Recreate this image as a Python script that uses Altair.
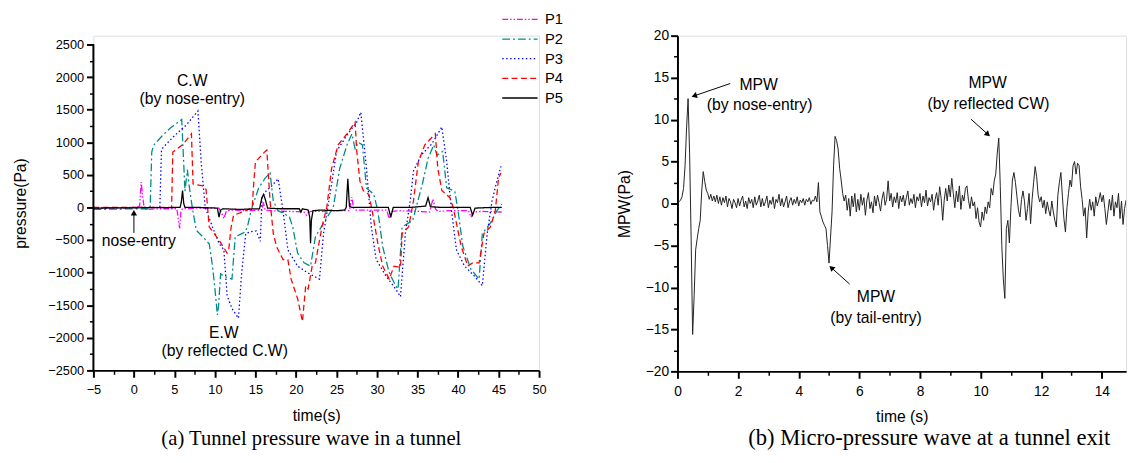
import altair as alt
import pandas as pd

# ---------------- (a) tunnel pressure wave ----------------
SERIES = ["P1", "P2", "P3", "P4", "P5"]
COLORS = ["#ff00ff", "#008b8b", "#0000ff", "#ff0000", "#000000"]
DASHES = [[6, 2, 1.5, 2, 1.5, 2], [8, 3, 2, 3], [1.5, 2.5], [6, 3.5], [1, 0]]

P1 = [(-5, -10), (-2, -10), (0, -5), (0.7, 20), (0.9, 390), (1.1, 150), (1.3, -40), (1.5, -30),
      (3, -20), (5.3, -20), (5.5, -200), (5.65, -320), (5.8, -60), (6.0, -20), (8, -10), (10.5, -10),
      (10.8, -80), (11.1, -170), (11.4, -60), (12, -40), (14, -50), (15.8, -40), (16.0, 80), (16.2, -40),
      (17, -50), (19, -60), (21, -70), (21.3, -120), (21.5, -80), (21.8, -60), (23, -60), (25, -50),
      (26.6, -50), (26.9, 160), (27.1, -10), (27.4, -40), (29, -40), (31.2, -40), (31.5, -170), (31.8, -60),
      (33, -50), (35, -60), (36.5, -70), (36.9, 130), (37.2, -20), (37.5, -60), (39, -50), (41.3, -50),
      (41.6, -150), (41.9, -70), (43, -60), (45.4, -70)]

P2 = [(-5, -30), (-2, -25), (0, -20), (2.0, -20), (2.2, 850), (2.4, 950), (3.5, 1100), (4.5, 1220),
      (5.9, 1350), (6.1, 800), (6.3, 250), (6.6, 580), (6.8, 350), (7.2, 0), (7.7, -350), (8.5, -450),
      (9.3, -560), (9.7, -900), (10.0, -1250), (10.3, -1650), (10.45, -1500), (10.7, -1020), (11.2, -1060),
      (12.1, -1100), (12.5, -450), (13.0, -420), (13.7, -380), (14.0, -300), (14.5, -30), (15.4, 300),
      (16.2, 450), (16.8, 530), (17.2, 100), (17.8, -50), (18.6, -100), (19.2, -150), (19.6, -300),
      (20.2, -700), (21.0, -850), (21.8, -900), (22.4, -450), (23.4, -240), (24.6, 0), (25.4, 600),
      (26.3, 960), (26.9, 1130), (27.3, 900), (27.7, 1000), (28.2, 960), (28.7, 300), (29.6, 200),
      (30.1, -50), (30.7, -600), (31.5, -1000), (32.3, -1200), (32.6, -1250), (33.1, -300), (34.4, -200),
      (35.6, 360), (36.3, 750), (37.0, 960), (37.4, 800), (38.1, 860), (38.6, 300), (39.6, 250),
      (40.0, -50), (40.6, -600), (41.6, -950), (42.6, -1100), (43.0, -400), (44.0, -240), (44.8, -50),
      (45.4, 50)]

P3 = [(-5, -10), (0, 0), (3.2, 0), (3.4, 880), (3.6, 920), (5, 1100), (6.5, 1270), (7.9, 1480),
      (8.3, 700), (8.8, 0), (9.7, -300), (10.5, -550), (11.1, -650), (11.5, -1350), (12.1, -1550),
      (12.9, -1700), (13.3, -1000), (13.8, -400), (14.5, -370), (15.1, -360), (15.6, -520), (15.8, 150),
      (16.3, 250), (17.0, 330), (17.8, 440), (18.4, -50), (19.0, -650), (20.2, -900), (21.4, -1000),
      (22.9, -1100), (23.4, -400), (24.4, 360), (25.0, 860), (26.3, 1110), (27.5, 1310), (28.0, 1460),
      (28.7, 600), (29.3, -300), (29.9, -800), (31.1, -1050), (32.3, -1250), (32.9, -1370), (33.5, -400),
      (34.1, 100), (34.5, 560), (35.5, 810), (36.8, 980), (38.0, 1235), (38.6, 700), (39.2, -50),
      (39.8, -650), (40.8, -900), (42.0, -1050), (43.0, -1200), (43.6, -400), (44.2, 100), (44.7, 360),
      (45.3, 630)]

P4 = [(-5, 0), (0, 0), (4.5, 0), (4.65, 0), (4.8, 850), (6.0, 960), (7.1, 1130), (7.3, 360),
      (7.6, 350), (8.5, 330), (8.9, 280), (9.3, -300), (10.5, -500), (11.5, -700), (11.7, -650),
      (12.0, -300), (12.3, -120), (13.8, -50), (14.6, 0), (14.8, 400), (15.0, 700), (16.2, 860),
      (16.4, 880), (16.8, 100), (17.2, -400), (17.6, -600), (18.4, -800), (19.0, -800), (19.4, -1100),
      (20.2, -1400), (20.8, -1750), (21.2, -1200), (21.5, -1250), (22.0, -900), (22.4, -850), (23.2, -300),
      (23.8, 0), (24.4, 600), (25.2, 960), (26.3, 1130), (27.3, 1310), (27.5, 860), (27.9, 400),
      (28.3, 260), (29.0, 200), (29.4, -50), (30.1, -550), (30.7, -900), (31.5, -1100), (32.1, -900),
      (32.9, -920), (33.1, -400), (33.9, -300), (34.5, 100), (35.1, 700), (35.9, 960), (37.2, 1130),
      (37.5, 600), (38.0, 260), (39.0, 150), (39.4, 0), (40.4, -600), (41.2, -900), (41.8, -850),
      (42.6, -850), (43.2, -400), (44.0, -300), (44.6, -50), (45.0, 450), (45.3, 530)]

P5 = [(-5, -10), (0, -5), (5.7, 0), (5.85, 80), (6.0, 260), (6.15, 60), (6.3, 0), (8, 0),
      (10.3, -10), (10.5, -150), (10.7, -40), (11, -20), (13, -30), (15.5, -20), (15.8, 150), (16.0, 200),
      (16.2, 130), (16.5, -10), (18, -20), (20.4, -20), (20.6, -70), (20.8, -20), (21.5, -40), (21.7, -150),
      (21.8, -550), (21.9, -200), (22.1, -50), (23, -40), (25, -50), (26.0, -40), (26.2, 0), (26.4, 440),
      (26.6, 20), (26.9, 0), (28, 0), (31.4, 0), (31.7, -150), (32.0, 0), (34, 0), (36.0, 20),
      (36.3, 150), (36.6, 10), (38, 0), (41.5, 0), (41.8, -120), (42.1, -10), (44, 0), (45.4, 0)]

LEFT_X_TICKS = [-5, 0, 5, 10, 15, 20, 25, 30, 35, 40, 45, 50]
LEFT_X_MINOR = [-2.5, 2.5, 7.5, 12.5, 17.5, 22.5, 27.5, 32.5, 37.5, 42.5, 47.5]
LEFT_Y_TICKS = [-2500, -2000, -1500, -1000, -500, 0, 500, 1000, 1500, 2000, 2500]
LEFT_Y_MINOR = [-2250, -1750, -1250, -750, -250, 250, 750, 1250, 1750, 2250]
LEFT_Y_TOP = 2635.5   # head-room above the 2500 tick (keeps both panels' tops as in the figure)

LEFT_NOTE_TEXT = ["C.W", "(by nose-entry)", "nose-entry", "E.W", "(by reflected C.W)"]
LEFT_NOTE_T = [7.2, 7.2, 0.6, 11.1, 11.2]
LEFT_NOTE_P = [1940, 1660, -510, -1930, -2210]
LEFT_ARROW = {"t": [0.0], "p": [-390], "t2": [0.0], "p2": [-95], "ang": [0]}

# ---------------- (b) micro-pressure wave ----------------
MPW = [
    0.1, 0.2, 0.4, 0.8, 1.8, 4.5, 9.0, 12.5, 6.0, -4.0, -15.6, -11.0, -5.5, -4.2, -3.0, -2.0, 1.5, 3.8, 2.6, 1.6,
    1.2, 0.5, 1.1, 0.3, 0.9, 0.2, 1.0, 0.0, 0.8, -0.2, 0.7, 0.1, 0.9, -0.4, 0.6, 0.2, -0.6, 0.5, 0.1, -0.5,
    0.6, -0.3, 0.4, 0.9, -0.4, 0.3, -0.6, 0.7, 0.0, 0.5, -0.5, 0.8, -0.2, 0.3, 1.0, -0.4, 0.6, -0.3, 0.2, 0.9,
    -0.5, 0.4, -0.1, 0.8, -0.6, 0.5, 0.1, 1.1, -0.3, 0.6, -0.4, 0.2, 0.9, -0.5, 0.3, 0.7, -0.2, 0.5, 0.0, 0.8,
    -0.3, 0.4, 0.1, 0.6, -0.2, 0.5, 0.2, 0.7, -0.1, 0.4, 0.3, 0.9, 0.2, 2.5, -1.0, -1.6, -2.2, -2.6, -3.0, -5.0,
    -7.1, -4.0, -1.0, 4.5, 8.0, 7.5, 6.5, 4.2, 2.8, 1.2, 0.3, 1.0, -0.8, 0.6, -1.5, 0.9, -0.4, 1.2, -1.0, 0.5,
    -0.8, 1.1, -0.2, 0.7, -1.4, 0.4, 1.3, -0.6, 0.2, -1.1, 0.9, -0.3, 1.0, 0.1, -0.9, 0.6, 1.4, -0.2, 0.5, 2.7,
    0.3, 1.2, -0.4, 0.8, 0.1, 1.3, -0.6, 0.9, 0.2, 1.0, -0.3, 0.7, 1.5, -0.2, 0.6, 0.0, 1.1, -0.5, 0.8, 0.3,
    1.2, -0.4, 0.9, 0.1, 1.6, -0.3, 0.7, 0.2, 1.1, -0.8, 0.5, 1.3, -0.2, 2.0, 0.6, -2.0, 0.4, 1.8, 0.3, 2.2,
    0.8, 3.0, 1.2, -0.5, 1.5, 0.2, 2.1, -0.7, 1.0, 0.3, 1.8, 2.1, 0.4, -0.6, 0.8, -0.3, 0.2, -1.8, -0.5, -2.2,
    -2.8, -1.0, -2.0, -0.4, -1.2, 0.2, -0.5, 1.8, 1.0, 2.7, 3.5, 6.0, 7.8, 2.0, -5.0, -9.0, -11.3, -3.0, -2.0, -4.7,
    -0.5, 2.8, 3.7, 2.5, 0.8, -0.8, -1.6, 0.5, 1.5, 0.2, -2.0, -0.6, 1.2, -2.4, 0.5, 2.5, 4.4, 3.2, 1.0, 0.2,
    0.8, -0.5, 0.4, -1.2, 0.2, -0.8, -1.5, 0.3, -1.0, -2.0, -2.8, 1.0, 2.5, 3.7, 0.8, -1.8, -3.4, -0.5, 1.2, 2.8,
    2.0, 4.5, 5.0, 3.5, 4.8, 4.5, 2.0, 0.5, -1.5, -0.5, -4.1, -1.0, 0.5, -0.8, 0.2, -1.5, 0.8, -0.3, 0.4, 1.3,
    0.2, 1.0, -0.6, -2.5, -1.0, 0.5, -0.8, 1.0, -1.5, 0.2, -0.5, 1.2, -1.8, 0.3, -2.5, -0.6, 0.4,
]
MPW_STEP = 0.05

RIGHT_X_TICKS = [0, 2, 4, 6, 8, 10, 12, 14]
RIGHT_X_MINOR = [1, 3, 5, 7, 9, 11, 13]
RIGHT_Y_TICKS = [-20, -15, -10, -5, 0, 5, 10, 15, 20]
RIGHT_Y_MINOR = [-17.5, -12.5, -7.5, -2.5, 2.5, 7.5, 12.5, 17.5]

RIGHT_NOTE_TEXT = ["MPW", "(by nose-entry)", "MPW", "(by tail-entry)", "MPW", "(by reflected CW)"]
RIGHT_NOTE_T = [2.68, 2.71, 6.55, 6.55, 10.23, 10.26]
RIGHT_NOTE_V = [14.15, 11.7, -11.1, -13.6, 14.3, 11.8]
RIGHT_ARROWS = {"t": [1.74, 5.68, 9.68], "v": [14.3, -9.6, 10.06],
                "t2": [0.58, 5.10, 10.22], "v2": [12.86, -7.72, 8.30],
                "ang": [251.6, 312.0, 131.8]}

FONT = "Liberation Sans"
SERIF = "Liberation Serif"
INK = "black"

# ---------------- tables ----------------
rows = []
for name, pts in zip(SERIES, [P1, P2, P3, P4, P5]):
    for i, (t, p) in enumerate(pts):
        rows.append({"series": name, "t": t, "p": p, "i": i})
left_df = pd.DataFrame(rows)
left_notes = pd.DataFrame({"text": LEFT_NOTE_TEXT, "t": LEFT_NOTE_T, "p": LEFT_NOTE_P})
left_arrow = pd.DataFrame(LEFT_ARROW)
left_yline = pd.DataFrame({"t": [LEFT_X_TICKS[0]], "p": [LEFT_Y_TICKS[0]], "p2": [LEFT_Y_TICKS[-1]]})

mpw_df = pd.DataFrame({"t": [round(i * MPW_STEP, 2) for i in range(len(MPW))], "v": MPW})
right_notes = pd.DataFrame({"text": RIGHT_NOTE_TEXT, "t": RIGHT_NOTE_T, "v": RIGHT_NOTE_V})
right_arrows = pd.DataFrame(RIGHT_ARROWS)

common = dict(domainColor=INK, domainWidth=2, domainOpacity=1, tickColor=INK, tickWidth=2,
              tickOpacity=1, labelColor=INK, titleColor=INK, labelFont=FONT, titleFont=FONT,
              titleFontWeight="normal", grid=False, labelFlush=False)
minor_common = dict(labels=False, domain=False, tickSize=4, tickWidth=1.5, tickColor=INK,
                    tickOpacity=1, title=None, grid=False)

# ---------------- left panel ----------------
lx = alt.Scale(domain=[-5, 50], nice=False, zero=False)
ly = alt.Scale(domain=[-2500, LEFT_Y_TOP], nice=False, zero=False)

leg = alt.Legend(orient="none", legendX=427, legendY=-24, title=None, symbolType="M-3,0H3",
                 symbolSize=144, symbolStrokeWidth=1.3, labelFontSize=15, labelFont=FONT,
                 labelColor=INK, labelOffset=18, padding=0, rowPadding=4)

left_lines = alt.Chart(left_df).mark_line(strokeWidth=1.3, clip=True).encode(
    x=alt.X("t:Q", scale=lx, axis=alt.Axis(orient="bottom", values=LEFT_X_TICKS, title="time(s)",
                                            tickSize=7, labelFontSize=13, titleFontSize=16,
                                            labelPadding=7, titlePadding=11, **common)),
    y=alt.Y("p:Q", scale=ly, axis=alt.Axis(orient="left", values=LEFT_Y_TICKS, title="pressure(Pa)",
                                            format="d", domain=False,
                                            tickSize=7, labelFontSize=13, titleFontSize=16,
                                            labelPadding=3, titlePadding=20, **common)),
    color=alt.Color("series:N", scale=alt.Scale(domain=SERIES, range=COLORS), legend=leg),
    strokeDash=alt.StrokeDash("series:N", scale=alt.Scale(domain=SERIES, range=DASHES), legend=leg),
    order="i:Q",
)

left_minor = alt.Chart(left_df).mark_point(opacity=0).encode(
    x=alt.X("t:Q", scale=lx, axis=alt.Axis(orient="bottom", values=LEFT_X_MINOR, **minor_common)),
    y=alt.Y("p:Q", scale=ly, axis=alt.Axis(orient="left", values=LEFT_Y_MINOR, **minor_common)),
)

left_axis_line = alt.Chart(left_yline).mark_rule(color=INK, strokeWidth=2, opacity=1).encode(
    x=alt.X("t:Q", scale=lx, axis=None), y=alt.Y("p:Q", scale=ly, axis=None), y2="p2:Q")

left_text = alt.Chart(left_notes).mark_text(font=FONT, fontSize=16, color=INK,
                                             align="center", baseline="middle").encode(
    x=alt.X("t:Q", scale=lx, axis=None), y=alt.Y("p:Q", scale=ly, axis=None), text="text:N")

left_rule = alt.Chart(left_arrow).mark_rule(color=INK, strokeWidth=1).encode(
    x=alt.X("t:Q", scale=lx, axis=None), y=alt.Y("p:Q", scale=ly, axis=None), x2="t2:Q", y2="p2:Q")

left_head = alt.Chart(left_arrow).mark_point(shape="triangle", filled=True, size=40,
                                              color=INK, opacity=1).encode(
    x=alt.X("t2:Q", scale=lx, axis=None), y=alt.Y("p2:Q", scale=ly, axis=None),
    angle=alt.Angle("ang:Q", scale=None))

left = alt.layer(left_lines, left_minor, left_axis_line, left_text, left_rule, left_head).resolve_axis(
    x="independent", y="independent").properties(
    width=454, height=341,
    title=alt.TitleParams("(a) Tunnel pressure wave in a tunnel", orient="bottom", anchor="middle",
                          font=SERIF, fontSize=21, fontWeight="normal", color=INK, offset=5, dx=-5))

# ---------------- right panel ----------------
rx = alt.Scale(domain=[0, 14.8], nice=False, zero=False)
ry = alt.Scale(domain=[-20, 20], nice=False, zero=False)

right_line = alt.Chart(mpw_df).mark_line(color="#222", strokeWidth=1, clip=True).encode(
    x=alt.X("t:Q", scale=rx, axis=alt.Axis(orient="bottom", values=RIGHT_X_TICKS, title="time (s)",
                                            tickSize=7, labelFontSize=14, titleFontSize=16,
                                            labelPadding=7, titlePadding=10, **common)),
    y=alt.Y("v:Q", scale=ry, axis=alt.Axis(orient="left", values=RIGHT_Y_TICKS, title="MPW(Pa)",
                                            tickSize=7, labelFontSize=14, titleFontSize=16,
                                            labelPadding=2, titlePadding=13, **common)),
)

right_minor = alt.Chart(mpw_df).mark_point(opacity=0).encode(
    x=alt.X("t:Q", scale=rx, axis=alt.Axis(orient="bottom", values=RIGHT_X_MINOR, **minor_common)),
    y=alt.Y("v:Q", scale=ry, axis=alt.Axis(orient="left", values=RIGHT_Y_MINOR, **minor_common)),
)

right_text = alt.Chart(right_notes).mark_text(font=FONT, fontSize=16, color=INK,
                                               align="center", baseline="middle").encode(
    x=alt.X("t:Q", scale=rx, axis=None), y=alt.Y("v:Q", scale=ry, axis=None), text="text:N")

right_rule = alt.Chart(right_arrows).mark_rule(color=INK, strokeWidth=1).encode(
    x=alt.X("t:Q", scale=rx, axis=None), y=alt.Y("v:Q", scale=ry, axis=None), x2="t2:Q", y2="v2:Q")

right_head = alt.Chart(right_arrows).mark_point(shape="triangle", filled=True, size=40,
                                                 color=INK, opacity=1).encode(
    x=alt.X("t2:Q", scale=rx, axis=None), y=alt.Y("v2:Q", scale=ry, axis=None),
    angle=alt.Angle("ang:Q", scale=None))

right = alt.layer(right_line, right_minor, right_text, right_rule, right_head).resolve_axis(
    x="independent", y="independent").properties(
    width=457, height=342,
    title=alt.TitleParams("(b) Micro-pressure wave at a tunnel exit", orient="bottom", anchor="middle",
                          font=SERIF, fontSize=23, fontWeight="normal", color=INK, offset=3, dx=28))

chart = alt.hconcat(left, right, spacing=70).properties(
    padding={"left": 3, "top": 0, "right": 0, "bottom": 0}
).configure_view(strokeWidth=0).configure_axis(
    domainColor=INK, tickColor=INK, labelColor=INK, titleColor=INK
).configure(background="white")

chart.save("out.html", embed_options={"renderer": "svg", "actions": False})
